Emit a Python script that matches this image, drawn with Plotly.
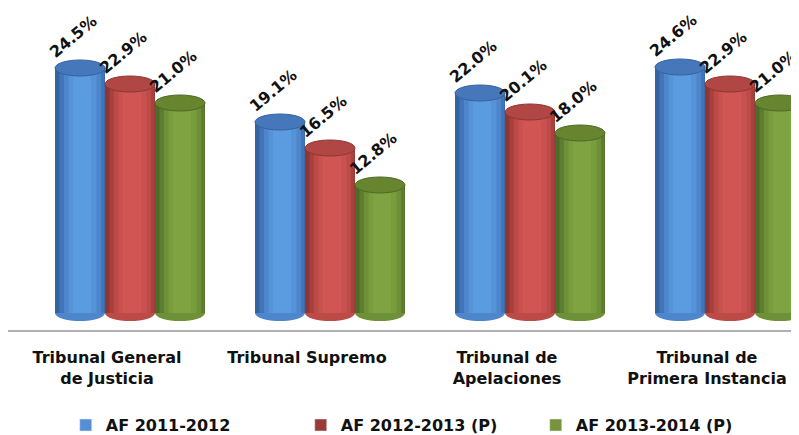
import plotly.graph_objects as go

categories = ["Tribunal General<br>de Justicia", "Tribunal Supremo",
              "Tribunal de<br>Apelaciones", "Tribunal de<br>Primera Instancia"]
series_names = ["AF 2011-2012", "AF 2012-2013 (P)", "AF 2013-2014 (P)"]
af_2011_2012 = [24.5, 19.1, 22.0, 24.6]
af_2012_2013 = [22.9, 16.5, 20.1, 22.9]
af_2013_2014 = [21.0, 12.8, 18.0, 21.0]
series_values = [af_2011_2012, af_2012_2013, af_2013_2014]

legend_colors = ["#558ED5", "#9B3B38", "#77933C"]
shade_colors = [
    ["#34649F", "#4275B8", "#4D86CB", "#5692D8", "#5B9BE0"],
    ["#8F3634", "#A8403D", "#BC4B48", "#C95250", "#D05553"],
    ["#4E6A28", "#5E7D30", "#6E9038", "#799C3D", "#80A342"],
]
cap_colors = ["#4677BB", "#B04744", "#67842F"]
layers = [(1.0, 0.0), (0.9, 0.04), (0.74, 0.05), (0.56, 0.05), (0.36, 0.04)]

FONT = "DejaVu Sans"
BW = 0.25
x_idx = list(range(len(categories)))

fig = go.Figure()
shapes = []
annotations = []
for s, (name, vals) in enumerate(zip(series_names, series_values)):
    center = -0.375 + s * BW + BW / 2
    for k, (wf, shift) in enumerate(layers):
        w = BW * wf
        c = center + shift * BW
        fig.add_trace(go.Bar(
            x=x_idx, y=vals, width=[w] * len(vals), offset=c - w / 2,
            marker=dict(color=shade_colors[s][k], line=dict(width=0)),
            showlegend=False, hoverinfo="skip",
        ))
    fig.add_trace(go.Bar(x=[None], y=[None], name=name,
                         marker=dict(color=legend_colors[s]), showlegend=True))
    for i, v in enumerate(vals):
        x0 = i + center - BW / 2
        x1 = i + center + BW / 2
        shapes.append(dict(type="circle", xref="x", yref="y", x0=x0, x1=x1,
                           y0=-0.8, y1=0.8, fillcolor=shade_colors[s][2],
                           line=dict(width=0), layer="below"))
        shapes.append(dict(type="circle", xref="x", yref="y", x0=x0, x1=x1,
                           y0=v - 0.8, y1=v + 0.8, fillcolor=cap_colors[s],
                           line=dict(width=1, color=shade_colors[s][0]), layer="above"))
        annotations.append(dict(x=i + center, y=v, xref="x", yref="y",
                                text=f"{v:.1f}%", showarrow=False, textangle=-40,
                                xshift=-7, yshift=32,
                                font=dict(family=FONT, size=16, color="#111111",
                                          weight="bold")))

fig.update_layout(
    width=799, height=435,
    margin=dict(l=0, r=8, t=5, b=113),
    paper_bgcolor="white", plot_bgcolor="white",
    barmode="overlay",
    shapes=shapes, annotations=annotations,
    xaxis=dict(range=[-0.61, 3.345], tickvals=[i - 0.115 for i in x_idx],
               ticktext=categories, showline=True, linecolor="#B0B0B0", linewidth=2,
               ticks="", showgrid=False, zeroline=False, ticklabelstandoff=12,
               tickfont=dict(family=FONT, size=16, color="#111111", weight="bold")),
    yaxis=dict(range=[-1.7, 30], visible=False, showgrid=False, zeroline=False),
    legend=dict(orientation="h", x=0.073, xanchor="left", y=-0.30, yanchor="middle",
                font=dict(family=FONT, size=16, color="#111111", weight="bold"),
                entrywidth=190, entrywidthmode="pixels"),
    showlegend=True,
)

fig.write_html("out.html")
